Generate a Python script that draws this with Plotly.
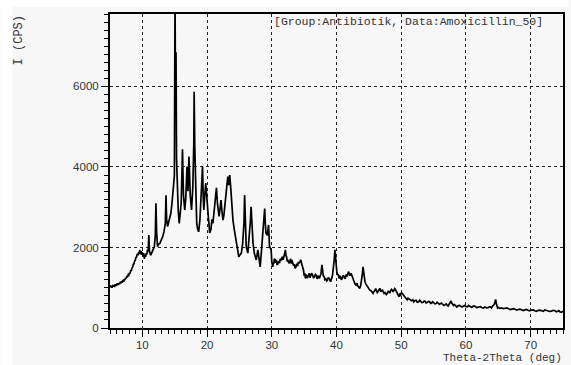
import plotly.graph_objects as go

# ---- data (2-theta in deg, intensity in CPS) ----
theta_a = [5.0, 5.1, 5.2, 5.3, 5.4, 5.5, 5.6, 5.7, 5.8, 5.9, 6.0, 6.1, 6.2, 6.3, 6.4, 6.5, 6.6, 6.7, 6.8, 6.9,
           7.0, 7.1, 7.2, 7.3, 7.4, 7.5, 7.6, 7.7, 7.8, 7.9, 8.0, 8.1, 8.2, 8.3, 8.4, 8.5, 8.6, 8.7, 8.8, 8.9,
           9.0, 9.1, 9.2, 9.3, 9.4, 9.5, 9.6, 9.7, 9.8, 9.9, 10.0, 10.1, 10.2, 10.3, 10.4, 10.5, 10.6, 10.7,
           10.8, 10.9]
int_a = [1060, 1010, 1040, 1000, 1070, 1030, 1060, 1020, 1090, 1050, 1080, 1060, 1110, 1070, 1120, 1090, 1150, 1110, 1160, 1130,
         1190, 1150, 1210, 1190, 1250, 1230, 1290, 1260, 1320, 1310, 1370, 1350, 1420, 1430, 1490, 1510, 1580, 1590, 1660, 1680,
         1750, 1760, 1840, 1800, 1880, 1850, 1940, 1830, 1910, 1820, 1880, 1780, 1860, 1720, 1820, 1770, 1850, 1830,
         1950, 1900]

theta_b = [11.0, 11.1, 11.3, 11.45, 11.6, 11.85, 12.0, 12.1, 12.2, 12.35, 12.5, 12.7, 12.9, 13.15, 13.35, 13.55, 13.65,
           13.75, 13.9, 14.1, 14.25, 14.4, 14.55, 14.7, 14.85, 14.95, 15.05, 15.12, 15.2, 15.28, 15.4, 15.55, 15.7,
           15.85, 16.0, 16.2, 16.35, 16.55, 16.7, 16.9, 17.05, 17.2, 17.4, 17.6, 17.8, 17.95, 18.0, 18.1, 18.25,
           18.4, 18.55, 18.7, 18.9, 19.1, 19.3, 19.4, 19.5, 19.65, 19.8, 19.95]
int_b = [2310, 1900, 1810, 1880, 1940, 2020, 2300, 3100, 2400, 2020, 2080, 2100, 2180, 2270, 2400, 2600, 3300,
         2700, 2520, 2650, 2800, 2850, 3050, 3250, 3600, 3800, 8300, 5600, 6850, 4200, 3200, 2900, 2600,
         2800, 3100, 4440, 3300, 2930, 3200, 4010, 3400, 4260, 3300, 2930, 3500, 4600, 5870, 4500, 3000,
         2600, 2450, 2390, 2700, 3300, 4010, 3300, 2930, 3300, 3600, 3260]

theta_c = [20.1, 20.25, 20.4, 20.6, 20.75, 20.9, 21.1, 21.3, 21.45, 21.6, 21.85, 22.0, 22.15, 22.3, 22.45, 22.6, 22.8,
           23.0, 23.2, 23.35, 23.5, 23.65, 23.8, 24.0, 24.2, 24.5, 24.7, 24.9, 25.1, 25.3, 25.5, 25.7, 25.8,
           25.9, 26.05, 26.3, 26.5, 26.7, 26.8, 26.95, 27.1, 27.3, 27.45, 27.6, 27.85, 28.0, 28.2, 28.4, 28.6,
           28.75, 28.9, 29.0, 29.1, 29.3, 29.5, 29.65, 29.9]
int_c = [2900, 2500, 2360, 2450, 2700, 2600, 2900, 3200, 3480, 3100, 2770, 2950, 3180, 2900, 2680, 2800, 3100,
         3430, 3760, 3550, 3800, 3500, 3010, 2680, 2450, 2190, 1950, 1770, 1820, 1860, 2100, 2600, 3300,
         2700, 2020, 1860, 2200, 2680, 3010, 2500, 2110, 1860, 1750, 1690, 1940, 1700, 1520, 1900, 2360,
         2600, 2970, 2600, 2360, 2300, 2560, 2020, 1940]

theta_d = [30.0, 30.08, 30.15, 30.22, 30.3, 30.4, 30.5, 30.6, 30.7, 30.8, 30.9, 31.05, 31.2, 31.3, 31.4, 31.5, 31.6,
           31.72, 31.85, 31.98, 32.1, 32.2, 32.3, 32.4, 32.5, 32.65, 32.8, 32.9, 33.0, 33.1, 33.2, 33.35, 33.5,
           33.62, 33.75, 33.88, 34.0, 34.1, 34.2, 34.35, 34.5, 34.6, 34.7, 34.8, 34.9]
int_d = [1650, 1560, 1520, 1610, 1600, 1720, 1700, 1620, 1690, 1580, 1580, 1660, 1610, 1720, 1700, 1680, 1770,
         1700, 1750, 1820, 1940, 1800, 1760, 1650, 1690, 1610, 1650, 1720, 1600, 1690, 1650, 1560, 1570,
         1480, 1520, 1600, 1540, 1640, 1610, 1650, 1690, 1600, 1560, 1480, 1440]

theta_e = [35.0, 35.1, 35.2, 35.3, 35.4, 35.5, 35.6, 35.7, 35.8, 35.9, 36.0, 36.15, 36.3, 36.45, 36.6, 36.75, 36.9,
           37.0, 37.1, 37.2, 37.35, 37.5, 37.6, 37.75, 37.85, 37.95, 38.1, 38.2, 38.35, 38.5, 38.6, 38.75, 38.85,
           39.0, 39.1, 39.2, 39.3, 39.4, 39.5, 39.65, 39.75, 39.85, 39.95]
int_e = [1300, 1360, 1230, 1320, 1300, 1240, 1280, 1340, 1360, 1250, 1300, 1360, 1320, 1240, 1270, 1330, 1300,
         1220, 1260, 1300, 1230, 1280, 1350, 1570, 1400, 1300, 1270, 1200, 1220, 1170, 1190, 1260, 1230,
         1180, 1150, 1220, 1250, 1330, 1440, 1700, 1940, 1650, 1500]

theta_f = [40.05, 40.15, 40.25, 40.4, 40.5, 40.6, 40.75, 40.9, 41.05, 41.2, 41.35, 41.5, 41.65, 41.85, 41.95, 42.1,
           42.25, 42.45, 42.55, 42.7, 42.85, 43.0, 43.15, 43.3, 43.45, 43.6, 43.75, 43.85, 44.0, 44.1, 44.25,
           44.4, 44.55, 44.7, 44.85]
int_f = [1400, 1320, 1340, 1230, 1300, 1280, 1200, 1240, 1310, 1270, 1220, 1330, 1280, 1400, 1330, 1300,
         1360, 1270, 1200, 1150, 1100, 1070, 1110, 1040, 1000, 985, 1060, 1150, 1350, 1520, 1300,
         1150, 1090, 1050, 1000]

theta_g = [45.0, 45.15, 45.3, 45.5, 45.65, 45.8, 45.9, 46.05, 46.15, 46.3, 46.4, 46.55, 46.7, 46.85, 46.95, 47.1,
           47.2, 47.35, 47.5, 47.7, 47.85, 48.0, 48.1, 48.25, 48.35, 48.5, 48.6, 48.75, 48.85, 49.0, 49.1,
           49.25, 49.35, 49.5, 49.65, 49.8, 49.9]
int_g = [985, 940, 930, 880, 860, 910, 920, 980, 945, 880, 900, 960, 985, 900, 930, 950,
         900, 860, 880, 830, 860, 910, 900, 870, 920, 960, 945, 900, 930, 980, 960,
         900, 870, 810, 780, 840, 820]

theta_h = [50.05, 50.15, 50.3, 50.5, 50.7, 50.9, 51.05, 51.2, 51.4, 51.6, 51.8, 51.95, 52.1, 52.3, 52.5, 52.7,
           52.85, 53.0, 53.2, 53.4, 53.55, 53.7, 53.85, 54.0, 54.2, 54.4, 54.55, 54.7, 54.85, 55.0, 55.2,
           55.4, 55.55, 55.7, 55.9, 56.05, 56.2, 56.4, 56.6, 56.8, 56.95, 57.1, 57.25, 57.4, 57.55, 57.7,
           57.8, 57.9, 58.0, 58.1, 58.25, 58.4, 58.6, 58.8, 59.0, 59.2, 59.4, 59.65, 59.8]
int_h = [880, 860, 800, 760, 730, 700, 740, 720, 690, 680, 700, 650, 680, 690, 640, 650,
         690, 670, 630, 640, 670, 660, 620, 630, 660, 650, 610, 620, 650, 630, 600,
         610, 640, 620, 590, 600, 620, 590, 560, 580, 600, 570, 550, 590, 620, 670,
         620, 590, 570, 560, 580, 545, 520, 555, 560, 540, 520, 545, 560]

theta_i = [60.0, 60.2, 60.4, 60.55, 60.7, 60.9, 61.1, 61.3, 61.45, 61.7, 61.9, 62.2, 62.45, 62.7, 62.9, 63.2, 63.5,
           63.65, 63.8, 63.95, 64.1, 64.25, 64.4, 64.5, 64.6, 64.7, 64.8, 64.9, 65.0, 65.25, 65.5, 65.8,
           66.05, 66.3, 66.6, 66.85, 67.1, 67.35, 67.6, 67.85, 68.1, 68.35, 68.6, 68.85, 69.1, 69.35, 69.6,
           69.85]
int_i = [535, 520, 560, 540, 530, 510, 540, 550, 530, 505, 520, 530, 510, 495, 520, 500, 510,
         530, 520, 500, 545, 560, 600, 650, 710, 600, 540, 500, 510, 490, 500, 480,
         490, 500, 480, 460, 470, 480, 465, 445, 460, 470, 455, 435, 450, 460, 440,
         425]

theta_j = [70.1, 70.4, 70.65, 70.9, 71.2, 71.45, 71.7, 71.95, 72.2, 72.45, 72.7, 72.95, 73.2, 73.5, 73.75, 74.0,
           74.2, 74.35, 74.5, 74.75, 75.0]
int_j = [445, 450, 430, 415, 440, 445, 430, 415, 450, 440, 435, 410, 420, 440, 430, 405,
         415, 430, 405, 390, 420]

two_theta = theta_a + theta_b + theta_c + theta_d + theta_e + theta_f + theta_g + theta_h + theta_i + theta_j
intensity = int_a + int_b + int_c + int_d + int_e + int_f + int_g + int_h + int_i + int_j

x_ticks = [10, 20, 30, 40, 50, 60, 70]
y_ticks = [0, 2000, 4000, 6000]

title_text = "[Group:Antibiotik, Data:Amoxicillin_50]"
x_title = "Theta-2Theta (deg)"
y_title = "I (CPS)"

# ---- layout geometry ----
W, H = 571, 365
L, R, T, B = 110, 6, 14, 37
pw, ph = W - L - R, H - T - B


def px_x(px):
    return (px - L) / pw


def px_y(py):
    return (H - B - py) / ph


BG = "#f7f7f7"

fig = go.Figure()
fig.add_trace(go.Scatter(
    x=two_theta, y=intensity, mode="lines",
    line=dict(color="black", width=1.7),
    hoverinfo="skip", showlegend=False,
))

axis_common = dict(
    showline=True, linecolor="black", linewidth=2, mirror=True,
    ticks="outside", ticklen=7, tickcolor="black", tickwidth=1,
    showgrid=True, gridcolor="#222222", gridwidth=1, griddash="3px,3px",
    zeroline=False,
    tickfont=dict(family="Liberation Sans, Arial, sans-serif", size=11.5, color="#333333"),
)

fig.update_xaxes(
    range=[5, 75], tickvals=x_ticks, ticklabelstandoff=-2,
    minor=dict(dtick=1, tick0=0, ticks="outside", ticklen=4, tickcolor="black", showgrid=False),
    **axis_common,
)
fig.update_yaxes(
    range=[0, 7800], tickvals=y_ticks,
    minor=dict(dtick=200, tick0=0, ticks="outside", ticklen=4, tickcolor="black", showgrid=False),
    **axis_common,
)

mono = dict(family="Liberation Mono, Courier New, monospace", color="#333333")

fig.add_annotation(text=title_text, xref="paper", yref="paper",
                   x=px_x(273), y=px_y(21), xanchor="left", yanchor="middle",
                   showarrow=False, font=dict(size=11.5, **mono))
fig.add_annotation(text=x_title, xref="paper", yref="paper",
                   x=px_x(565), y=px_y(365), xanchor="right", yanchor="bottom",
                   borderpad=0, showarrow=False, font=dict(size=11, **mono))
fig.add_annotation(text=y_title, xref="paper", yref="paper",
                   x=px_x(19), y=px_y(40), xanchor="center", yanchor="middle",
                   textangle=-90, showarrow=False, font=dict(size=12, **mono))

# white border strips outside the grey panel
fig.add_shape(type="rect", xref="paper", yref="paper", layer="below",
              x0=px_x(0), x1=px_x(12), y0=px_y(H), y1=px_y(0),
              fillcolor="white", line=dict(width=0))
fig.add_shape(type="rect", xref="paper", yref="paper", layer="below",
              x0=px_x(0), x1=px_x(W), y0=px_y(7), y1=px_y(0),
              fillcolor="white", line=dict(width=0))

fig.update_layout(
    width=W, height=H,
    margin=dict(l=L, r=R, t=T, b=B, pad=0),
    paper_bgcolor=BG, plot_bgcolor=BG,
    showlegend=False,
)

fig.write_html("out.html", config={"displayModeBar": False})
